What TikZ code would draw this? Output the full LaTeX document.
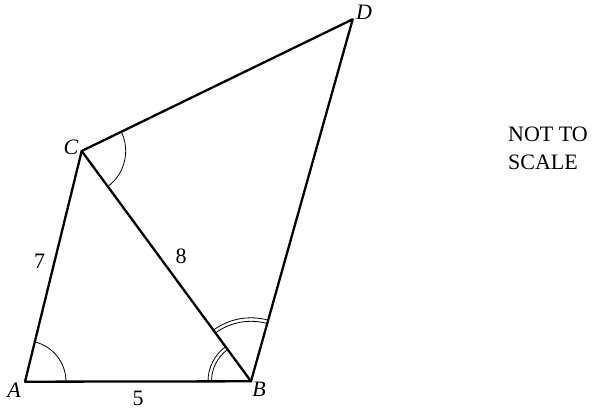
\documentclass[tikz,border=0pt]{standalone}
\usepackage{fontspec}
\setmainfont{Liberation Serif}
\usetikzlibrary{angles}
\tikzset{
  side/.style={line width=2.3pt, line cap=round, line join=round},
  anglemark/.style={line width=0.8pt},
  lbl/.style={inner sep=0pt, font=\fontsize{22}{26}\selectfont},
  vlbl/.style={inner sep=0pt, font=\fontsize{22}{26}\selectfont\itshape},
}
\begin{document}
\begin{tikzpicture}[x=1pt,y=-1pt]
\useasboundingbox (0,0) rectangle (596,414);
\coordinate (A) at (25,381.7);
\coordinate (B) at (251,381.3);
\coordinate (C) at (81.7,151);
\coordinate (D) at (352.7,19.3);
\draw[side] (A) -- (B) -- (D) -- (C) -- cycle;
\draw[side] (C) -- (B);
\pic[draw, anglemark, angle radius=41pt] {angle = B--A--C};
\pic[draw, anglemark, angle radius=39.5pt] {angle = C--B--A};
\pic[draw, anglemark, angle radius=43pt] {angle = C--B--A};
\pic[draw, anglemark, angle radius=60pt] {angle = D--B--C};
\pic[draw, anglemark, angle radius=63.5pt] {angle = D--B--C};
\pic[draw, anglemark, angle radius=44pt] {angle = B--C--D};
\node[vlbl] (la) at (14,390) {A};
\node[vlbl] (lb) at (259,389.5) {B};
\node[vlbl] (lc) at (71,147.5) {C};
\node[vlbl] (ld) at (364,12.5) {D};
\node[lbl] (l7) at (39.5,261.5) {7};
\node[lbl] (l8) at (181,256) {8};
\node[lbl] (l5) at (138,398) {5};
\node[lbl, anchor=base west] (ns) at (508,141.7) {NOT TO};
\node[lbl, anchor=base west] (sc) at (508,169) {SCALE};
\end{tikzpicture}
\end{document}
